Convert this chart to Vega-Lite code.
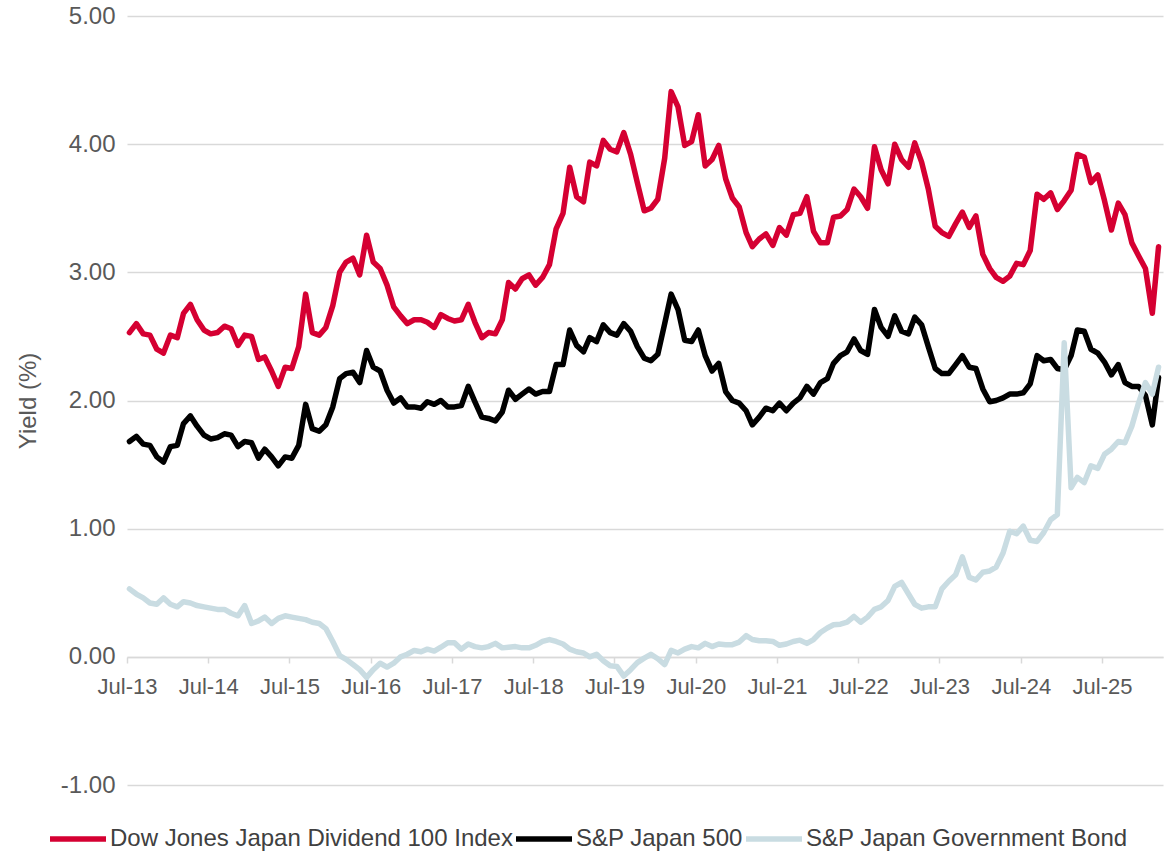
{
  "$schema": "https://vega.github.io/schema/vega-lite/v6.json",
  "autosize": "none",
  "width": 1036,
  "height": 769,
  "padding": {"left": 127, "top": 16, "right": 12, "bottom": 67},
  "background": "white",
  "config": {
    "view": {"stroke": null},
    "font": "Liberation Sans",
    "axis": {"labelFont": "Liberation Sans", "titleFont": "Liberation Sans", "labelColor": "#595959", "titleColor": "#595959"},
    "legend": {"labelFont": "Liberation Sans"}
  },
  "data": {
    "values": [
      {"date":"2013-07-12","dj":2.53,"sp":1.68,"gb":0.53},
      {"date":"2013-08-12","dj":2.60,"sp":1.72,"gb":0.49},
      {"date":"2013-09-12","dj":2.52,"sp":1.66,"gb":0.46},
      {"date":"2013-10-12","dj":2.51,"sp":1.65,"gb":0.42},
      {"date":"2013-11-12","dj":2.40,"sp":1.56,"gb":0.41},
      {"date":"2013-12-12","dj":2.37,"sp":1.52,"gb":0.46},
      {"date":"2014-01-12","dj":2.51,"sp":1.64,"gb":0.41},
      {"date":"2014-02-12","dj":2.49,"sp":1.65,"gb":0.39},
      {"date":"2014-03-12","dj":2.68,"sp":1.82,"gb":0.43},
      {"date":"2014-04-12","dj":2.75,"sp":1.88,"gb":0.42},
      {"date":"2014-05-12","dj":2.63,"sp":1.80,"gb":0.40},
      {"date":"2014-06-12","dj":2.55,"sp":1.73,"gb":0.39},
      {"date":"2014-07-12","dj":2.52,"sp":1.70,"gb":0.38},
      {"date":"2014-08-12","dj":2.53,"sp":1.71,"gb":0.37},
      {"date":"2014-09-12","dj":2.58,"sp":1.74,"gb":0.37},
      {"date":"2014-10-12","dj":2.56,"sp":1.73,"gb":0.34},
      {"date":"2014-11-12","dj":2.43,"sp":1.64,"gb":0.32},
      {"date":"2014-12-12","dj":2.51,"sp":1.68,"gb":0.40},
      {"date":"2015-01-12","dj":2.50,"sp":1.67,"gb":0.26},
      {"date":"2015-02-12","dj":2.32,"sp":1.55,"gb":0.28},
      {"date":"2015-03-12","dj":2.34,"sp":1.62,"gb":0.31},
      {"date":"2015-04-12","dj":2.23,"sp":1.56,"gb":0.26},
      {"date":"2015-05-12","dj":2.11,"sp":1.49,"gb":0.30},
      {"date":"2015-06-12","dj":2.26,"sp":1.56,"gb":0.32},
      {"date":"2015-07-12","dj":2.25,"sp":1.55,"gb":0.31},
      {"date":"2015-08-12","dj":2.42,"sp":1.65,"gb":0.30},
      {"date":"2015-09-12","dj":2.83,"sp":1.97,"gb":0.29},
      {"date":"2015-10-12","dj":2.53,"sp":1.78,"gb":0.27},
      {"date":"2015-11-12","dj":2.51,"sp":1.76,"gb":0.26},
      {"date":"2015-12-12","dj":2.57,"sp":1.81,"gb":0.22},
      {"date":"2016-01-12","dj":2.74,"sp":1.95,"gb":0.12},
      {"date":"2016-02-12","dj":3.00,"sp":2.17,"gb":0.01},
      {"date":"2016-03-12","dj":3.08,"sp":2.21,"gb":-0.02},
      {"date":"2016-04-12","dj":3.11,"sp":2.22,"gb":-0.06},
      {"date":"2016-05-12","dj":2.98,"sp":2.14,"gb":-0.10},
      {"date":"2016-06-12","dj":3.29,"sp":2.39,"gb":-0.16},
      {"date":"2016-07-12","dj":3.08,"sp":2.26,"gb":-0.10},
      {"date":"2016-08-12","dj":3.03,"sp":2.23,"gb":-0.05},
      {"date":"2016-09-12","dj":2.90,"sp":2.08,"gb":-0.08},
      {"date":"2016-10-12","dj":2.73,"sp":1.98,"gb":-0.05},
      {"date":"2016-11-12","dj":2.66,"sp":2.02,"gb":0.00},
      {"date":"2016-12-12","dj":2.60,"sp":1.95,"gb":0.02},
      {"date":"2017-01-12","dj":2.63,"sp":1.95,"gb":0.05},
      {"date":"2017-02-12","dj":2.63,"sp":1.94,"gb":0.04},
      {"date":"2017-03-12","dj":2.61,"sp":1.99,"gb":0.06},
      {"date":"2017-04-12","dj":2.57,"sp":1.97,"gb":0.045},
      {"date":"2017-05-12","dj":2.67,"sp":2.00,"gb":0.075},
      {"date":"2017-06-12","dj":2.64,"sp":1.95,"gb":0.11},
      {"date":"2017-07-12","dj":2.62,"sp":1.95,"gb":0.11},
      {"date":"2017-08-12","dj":2.63,"sp":1.96,"gb":0.06},
      {"date":"2017-09-12","dj":2.75,"sp":2.11,"gb":0.10},
      {"date":"2017-10-12","dj":2.61,"sp":1.99,"gb":0.08},
      {"date":"2017-11-12","dj":2.49,"sp":1.87,"gb":0.07},
      {"date":"2017-12-12","dj":2.53,"sp":1.86,"gb":0.08},
      {"date":"2018-01-12","dj":2.52,"sp":1.84,"gb":0.105},
      {"date":"2018-02-12","dj":2.63,"sp":1.91,"gb":0.07},
      {"date":"2018-03-12","dj":2.92,"sp":2.08,"gb":0.075},
      {"date":"2018-04-12","dj":2.87,"sp":2.01,"gb":0.08},
      {"date":"2018-05-12","dj":2.95,"sp":2.05,"gb":0.07},
      {"date":"2018-06-12","dj":2.98,"sp":2.09,"gb":0.07},
      {"date":"2018-07-12","dj":2.90,"sp":2.05,"gb":0.09},
      {"date":"2018-08-12","dj":2.96,"sp":2.07,"gb":0.12},
      {"date":"2018-09-12","dj":3.06,"sp":2.07,"gb":0.135},
      {"date":"2018-10-12","dj":3.34,"sp":2.28,"gb":0.12},
      {"date":"2018-11-12","dj":3.46,"sp":2.28,"gb":0.10},
      {"date":"2018-12-12","dj":3.82,"sp":2.55,"gb":0.06},
      {"date":"2019-01-12","dj":3.59,"sp":2.43,"gb":0.04},
      {"date":"2019-02-12","dj":3.55,"sp":2.38,"gb":0.03},
      {"date":"2019-03-12","dj":3.86,"sp":2.49,"gb":0.00},
      {"date":"2019-04-12","dj":3.83,"sp":2.46,"gb":0.02},
      {"date":"2019-05-12","dj":4.03,"sp":2.59,"gb":-0.03},
      {"date":"2019-06-12","dj":3.96,"sp":2.53,"gb":-0.07},
      {"date":"2019-07-12","dj":3.94,"sp":2.51,"gb":-0.075},
      {"date":"2019-08-12","dj":4.09,"sp":2.60,"gb":-0.15},
      {"date":"2019-09-12","dj":3.92,"sp":2.54,"gb":-0.10},
      {"date":"2019-10-12","dj":3.70,"sp":2.42,"gb":-0.045},
      {"date":"2019-11-12","dj":3.48,"sp":2.33,"gb":-0.01},
      {"date":"2019-12-12","dj":3.50,"sp":2.31,"gb":0.02},
      {"date":"2020-01-12","dj":3.57,"sp":2.36,"gb":-0.015},
      {"date":"2020-02-12","dj":3.89,"sp":2.60,"gb":-0.06},
      {"date":"2020-03-12","dj":4.41,"sp":2.83,"gb":0.05},
      {"date":"2020-04-12","dj":4.29,"sp":2.71,"gb":0.03},
      {"date":"2020-05-12","dj":3.99,"sp":2.47,"gb":0.06},
      {"date":"2020-06-12","dj":4.02,"sp":2.46,"gb":0.08},
      {"date":"2020-07-12","dj":4.23,"sp":2.55,"gb":0.07},
      {"date":"2020-08-12","dj":3.83,"sp":2.35,"gb":0.105},
      {"date":"2020-09-12","dj":3.88,"sp":2.23,"gb":0.08},
      {"date":"2020-10-12","dj":3.99,"sp":2.29,"gb":0.10},
      {"date":"2020-11-12","dj":3.73,"sp":2.07,"gb":0.095},
      {"date":"2020-12-12","dj":3.58,"sp":2.00,"gb":0.095},
      {"date":"2021-01-12","dj":3.51,"sp":1.98,"gb":0.115},
      {"date":"2021-02-12","dj":3.31,"sp":1.92,"gb":0.165},
      {"date":"2021-03-12","dj":3.20,"sp":1.81,"gb":0.135},
      {"date":"2021-04-12","dj":3.26,"sp":1.87,"gb":0.125},
      {"date":"2021-05-12","dj":3.30,"sp":1.94,"gb":0.125},
      {"date":"2021-06-12","dj":3.21,"sp":1.92,"gb":0.12},
      {"date":"2021-07-12","dj":3.35,"sp":1.98,"gb":0.09},
      {"date":"2021-08-12","dj":3.29,"sp":1.92,"gb":0.10},
      {"date":"2021-09-12","dj":3.45,"sp":1.98,"gb":0.12},
      {"date":"2021-10-12","dj":3.46,"sp":2.02,"gb":0.13},
      {"date":"2021-11-12","dj":3.59,"sp":2.11,"gb":0.105},
      {"date":"2021-12-12","dj":3.32,"sp":2.05,"gb":0.135},
      {"date":"2022-01-12","dj":3.23,"sp":2.14,"gb":0.19},
      {"date":"2022-02-12","dj":3.23,"sp":2.17,"gb":0.225},
      {"date":"2022-03-12","dj":3.43,"sp":2.29,"gb":0.25},
      {"date":"2022-04-12","dj":3.44,"sp":2.35,"gb":0.255},
      {"date":"2022-05-12","dj":3.49,"sp":2.38,"gb":0.27},
      {"date":"2022-06-12","dj":3.65,"sp":2.48,"gb":0.315},
      {"date":"2022-07-12","dj":3.59,"sp":2.39,"gb":0.27},
      {"date":"2022-08-12","dj":3.50,"sp":2.36,"gb":0.31},
      {"date":"2022-09-12","dj":3.98,"sp":2.71,"gb":0.37},
      {"date":"2022-10-12","dj":3.80,"sp":2.57,"gb":0.39},
      {"date":"2022-11-12","dj":3.69,"sp":2.50,"gb":0.44},
      {"date":"2022-12-12","dj":4.00,"sp":2.66,"gb":0.55},
      {"date":"2023-01-12","dj":3.88,"sp":2.54,"gb":0.58},
      {"date":"2023-02-12","dj":3.82,"sp":2.52,"gb":0.49},
      {"date":"2023-03-12","dj":4.01,"sp":2.65,"gb":0.41},
      {"date":"2023-04-12","dj":3.86,"sp":2.59,"gb":0.38},
      {"date":"2023-05-12","dj":3.65,"sp":2.42,"gb":0.39},
      {"date":"2023-06-12","dj":3.36,"sp":2.25,"gb":0.39},
      {"date":"2023-07-12","dj":3.31,"sp":2.21,"gb":0.53},
      {"date":"2023-08-12","dj":3.28,"sp":2.21,"gb":0.59},
      {"date":"2023-09-12","dj":3.38,"sp":2.28,"gb":0.64},
      {"date":"2023-10-12","dj":3.47,"sp":2.35,"gb":0.78},
      {"date":"2023-11-12","dj":3.35,"sp":2.26,"gb":0.62},
      {"date":"2023-12-12","dj":3.44,"sp":2.25,"gb":0.60},
      {"date":"2024-01-12","dj":3.14,"sp":2.09,"gb":0.66},
      {"date":"2024-02-12","dj":3.03,"sp":1.99,"gb":0.67},
      {"date":"2024-03-12","dj":2.96,"sp":2.00,"gb":0.70},
      {"date":"2024-04-12","dj":2.93,"sp":2.02,"gb":0.81},
      {"date":"2024-05-12","dj":2.97,"sp":2.05,"gb":0.98},
      {"date":"2024-06-12","dj":3.07,"sp":2.05,"gb":0.96},
      {"date":"2024-07-12","dj":3.06,"sp":2.06,"gb":1.02},
      {"date":"2024-08-12","dj":3.17,"sp":2.13,"gb":0.91},
      {"date":"2024-09-12","dj":3.61,"sp":2.35,"gb":0.90},
      {"date":"2024-10-12","dj":3.57,"sp":2.31,"gb":0.97},
      {"date":"2024-11-12","dj":3.62,"sp":2.32,"gb":1.07},
      {"date":"2024-12-12","dj":3.49,"sp":2.25,"gb":1.11},
      {"date":"2025-01-12","dj":3.56,"sp":2.24,"gb":2.45},
      {"date":"2025-02-12","dj":3.64,"sp":2.35,"gb":1.32},
      {"date":"2025-03-12","dj":3.92,"sp":2.55,"gb":1.40},
      {"date":"2025-04-12","dj":3.90,"sp":2.54,"gb":1.36},
      {"date":"2025-05-12","dj":3.70,"sp":2.40,"gb":1.49},
      {"date":"2025-06-12","dj":3.76,"sp":2.37,"gb":1.47},
      {"date":"2025-07-12","dj":3.56,"sp":2.30,"gb":1.58},
      {"date":"2025-08-12","dj":3.33,"sp":2.20,"gb":1.62},
      {"date":"2025-09-12","dj":3.54,"sp":2.28,"gb":1.68},
      {"date":"2025-10-12","dj":3.45,"sp":2.14,"gb":1.67},
      {"date":"2025-11-12","dj":3.23,"sp":2.11,"gb":1.80},
      {"date":"2025-12-12","dj":3.13,"sp":2.11,"gb":1.98},
      {"date":"2026-01-12","dj":3.03,"sp":2.04,"gb":2.14},
      {"date":"2026-02-12","dj":2.68,"sp":1.81,"gb":2.05},
      {"date":"2026-03-12","dj":3.20,"sp":2.18,"gb":2.26}
    ]
  },
  "transform": [
    {"fold": ["dj", "sp", "gb"], "as": ["series", "value"]}
  ],
  "mark": {"type": "line", "strokeWidth": 5.5, "strokeJoin": "round", "strokeCap": "round"},
  "encoding": {
    "x": {
      "field": "date",
      "type": "temporal",
      "scale": {
        "type": "utc",
        "domain": [
          {"year": 2013, "month": 7, "date": 1, "utc": true},
          {"year": 2026, "month": 4, "date": 1, "utc": true}
        ]
      },
      "axis": {
        "title": null,
        "offset": -128,
        "values": [
          {"year": 2013, "month": 7, "date": 1, "utc": true},
          {"year": 2014, "month": 7, "date": 1, "utc": true},
          {"year": 2015, "month": 7, "date": 1, "utc": true},
          {"year": 2016, "month": 7, "date": 1, "utc": true},
          {"year": 2017, "month": 7, "date": 1, "utc": true},
          {"year": 2018, "month": 7, "date": 1, "utc": true},
          {"year": 2019, "month": 7, "date": 1, "utc": true},
          {"year": 2020, "month": 7, "date": 1, "utc": true},
          {"year": 2021, "month": 7, "date": 1, "utc": true},
          {"year": 2022, "month": 7, "date": 1, "utc": true},
          {"year": 2023, "month": 7, "date": 1, "utc": true},
          {"year": 2024, "month": 7, "date": 1, "utc": true},
          {"year": 2025, "month": 7, "date": 1, "utc": true}
        ],
        "labelExpr": "utcFormat(datum.value, '%b-%y')",
        "grid": false,
        "domainColor": "#d9d9d9",
        "domainWidth": 1.5,
        "tickColor": "#d9d9d9",
        "tickWidth": 1.5,
        "tickSize": 6,
        "labelFontSize": 22,
        "labelPadding": 13,
        "labelOverlap": false,
        "labelFlush": false
      }
    },
    "y": {
      "field": "value",
      "type": "quantitative",
      "scale": {"domain": [-1, 5], "nice": false, "zero": false},
      "axis": {
        "title": "Yield (%)",
        "titleFontSize": 24,
        "titleFontWeight": "normal",
        "titlePadding": 20,
        "values": [-1, 0, 1, 2, 3, 4, 5],
        "labelExpr": "replace(format(datum.value, '.2f'), '\u2212', '-')",
        "domain": false,
        "ticks": false,
        "grid": true,
        "gridColor": "#d9d9d9",
        "gridWidth": 1.5,
        "labelFontSize": 24,
        "labelPadding": 12
      }
    },
    "color": {
      "field": "series",
      "type": "nominal",
      "scale": {"domain": ["dj", "sp", "gb"], "range": ["#d50032", "#000000", "#c9dce2"]},
      "legend": {
        "title": null,
        "orient": "none",
        "direction": "horizontal",
        "legendX": -80,
        "legendY": 792,
        "symbolType": "stroke",
        "symbolStrokeWidth": 5.5,
        "symbolSize": 3136,
        "labelFontSize": 24,
        "labelColor": "#404040",
        "labelOffset": 1,
        "columnPadding": -8,
        "labelLimit": 600,
        "labelExpr": "datum.value == 'dj' ? 'Dow Jones Japan Dividend 100 Index' : datum.value == 'sp' ? 'S&P Japan 500' : 'S&P Japan Government Bond'"
      }
    }
  }
}
